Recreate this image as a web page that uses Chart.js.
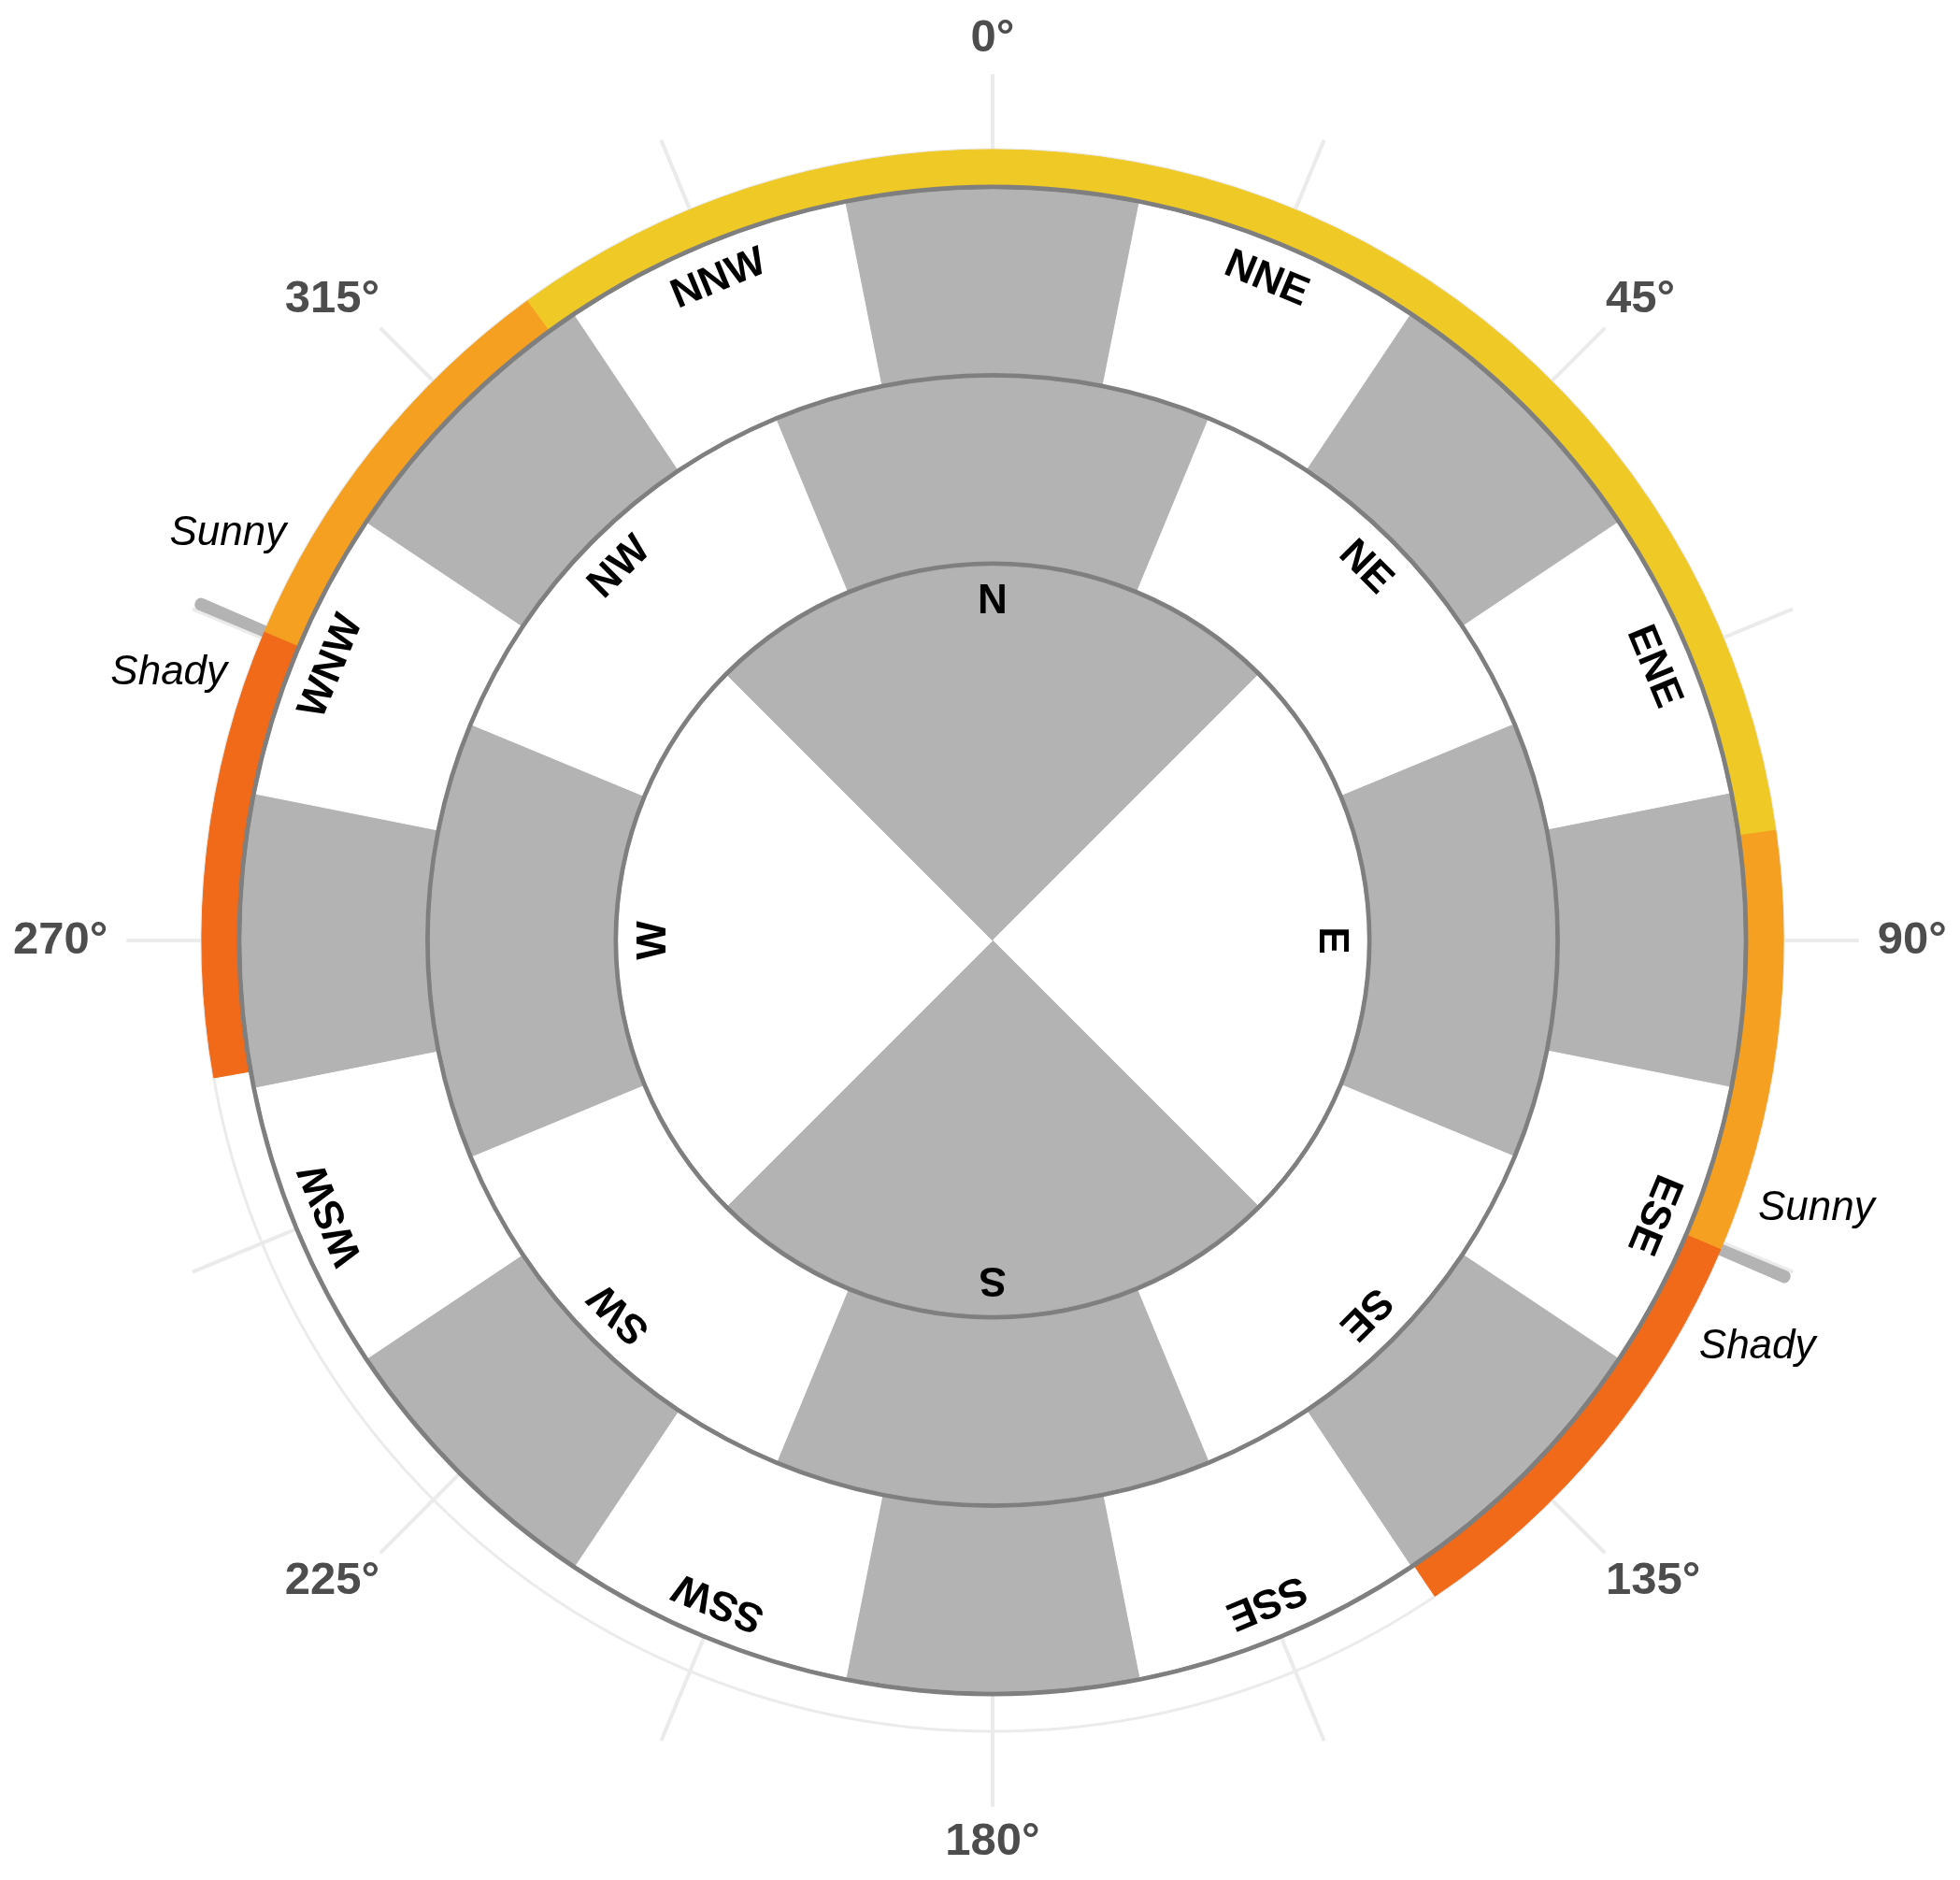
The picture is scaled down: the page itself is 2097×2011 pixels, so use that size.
<!DOCTYPE html>
<html>
<head>
<meta charset="utf-8">
<script src="https://cdn.jsdelivr.net/npm/chart.js@4.4.1/dist/chart.umd.min.js"></script>
<style>
  html, body { margin: 0; padding: 0; background: #fff; }
  #wrap { width: 2097px; height: 2011px; position: relative; }
</style>
</head>
<body>
<div id="wrap"><canvas id="rose"></canvas></div>
<script>
// compass sectors, inner ring to outer ring
var ring4 = ['N', 'E', 'S', 'W'];
var ring8 = ['N', 'NE', 'E', 'SE', 'S', 'SW', 'W', 'NW'];
var ring16 = ['N', 'NNE', 'NE', 'ENE', 'E', 'ESE', 'SE', 'SSE', 'S', 'SSW', 'SW', 'WSW', 'W', 'WNW', 'NW', 'NNW'];
var ringLevels = [1, 1.5, 2];
var sunLevel = 2.1;
var axisMax = 2.3;

var degreeLabels = ['0°', '', '45°', '', '90°', '', '135°', '', '180°', '', '225°', '', '270°', '', '315°', ''];

// sun band, clockwise from north, each zone ends at this bearing
var sunZones = ['Sunny', 'Partial', 'Shady', 'None', 'Shady', 'Partial', 'Sunny'];
var sunZoneEnds = [82, 113, 146, 260, 293, 324, 360];

// sunny / shady dividers and the notes before / after them (clockwise)
var dividerBearings = [113, 293];
var dividerNotes = [['Sunny', 'Shady'], ['Shady', 'Sunny']];

var GRAY = '#b3b3b3';
var EDGE = '#7f7f7f';
var zoneColors = { Sunny: '#efc926', Partial: '#f5a021', Shady: '#f06a19', None: 'rgba(0,0,0,0)' };
var half = 0.0065;       // half width of the ring edge lines
var markWidth = 0.85;    // divider width in degrees
var FONT = '"Liberation Sans", Arial, sans-serif';

function ringDataset(names, level) {
  var step = 360 / names.length;
  var angles = [step / 2], colors = [GRAY], data = [level - half];
  for (var i = 1; i < names.length; i++) {
    angles.push(step);
    colors.push(i % 2 ? '#ffffff' : GRAY);
    data.push(level - half);
  }
  angles.push(step / 2); colors.push(GRAY); data.push(level - half);
  return { data: data, angle: angles, backgroundColor: colors, borderColor: colors, borderWidth: 1 };
}

function edgeDataset(level) {
  return { data: [level + half], angle: [360], backgroundColor: [EDGE], borderWidth: 0 };
}

var sunColors = sunZones.map(function (z) { return zoneColors[z]; });
var sunBand = {
  data: sunZones.map(function (z) { return z === 'None' ? 0 : sunLevel; }),
  angle: sunZoneEnds.map(function (e, i) { return e - (i ? sunZoneEnds[i - 1] : 0); }),
  backgroundColor: sunColors,
  borderColor: sunColors,
  borderWidth: 1
};

var markData = [], markAngles = [], prev = 0;
dividerBearings.forEach(function (b) {
  markAngles.push(b - markWidth / 2 - prev); markData.push(0);
  markAngles.push(markWidth); markData.push(axisMax);
  prev = b + markWidth / 2;
});
markAngles.push(360 - prev); markData.push(0);
var markers = {
  data: markData, angle: markAngles,
  backgroundColor: markData.map(function (v) { return v ? GRAY : 'rgba(0,0,0,0)'; }),
  borderWidth: 0,
  borderRadius: { outerStart: 6, outerEnd: 6, innerStart: 0, innerEnd: 0 }
};

// text on the rings (each name only where it first appears) and the divider notes
var compassText = {
  id: 'compassText',
  afterDatasetsDraw: function (chart) {
    var r = chart.scales.r;
    var ctx = chart.ctx;
    ctx.save();
    ctx.fillStyle = '#000';
    ctx.textAlign = 'center';
    ctx.textBaseline = 'middle';
    ctx.font = 'bold 44px ' + FONT;
    [ring4, ring8, ring16].forEach(function (names, k) {
      var dist = r.getDistanceFromCenterForValue(ringLevels[k] - 0.1);
      names.forEach(function (name, i) {
        if (k > 0 && i % 2 === 0) return;
        ctx.save();
        ctx.translate(r.xCenter, r.yCenter);
        ctx.rotate(i * 2 * Math.PI / names.length);
        ctx.fillText(name, 0, -dist);
        ctx.restore();
      });
    });
    ctx.font = 'italic 44px ' + FONT;
    var nd = r.getDistanceFromCenterForValue(axisMax);
    dividerBearings.forEach(function (b, k) {
      [-5, 5].forEach(function (off, j) {
        var a = (b + off) * Math.PI / 180;
        ctx.fillText(dividerNotes[k][j], r.xCenter + nd * Math.sin(a), r.yCenter - nd * Math.cos(a));
      });
    });
    ctx.restore();
  }
};

new Chart('rose', {
  type: 'polarArea',
  data: {
    labels: degreeLabels,
    datasets: [
      ringDataset(ring4, ringLevels[0]),
      edgeDataset(ringLevels[0]),
      ringDataset(ring8, ringLevels[1]),
      edgeDataset(ringLevels[1]),
      ringDataset(ring16, ringLevels[2]),
      edgeDataset(ringLevels[2]),
      sunBand,
      markers
    ]
  },
  options: {
    responsive: true,
    maintainAspectRatio: false,
    devicePixelRatio: 1,
    animation: false,
    events: [],
    layout: { padding: { top: 12, bottom: 10 } },
    plugins: { legend: { display: false }, tooltip: { enabled: false } },
    scales: {
      r: {
        min: 0,
        max: axisMax,
        startAngle: 0,
        ticks: { display: false },
        afterBuildTicks: function (s) { s.ticks = [{ value: 0 }, { value: sunLevel }]; },
        grid: { circular: true, color: '#ebebeb', lineWidth: 3 },
        angleLines: { display: true, color: '#ebebeb', lineWidth: 4 },
        pointLabels: {
          display: true,
          color: '#4d4d4d',
          font: { family: FONT, size: 49, weight: 'bold' },
          padding: function (c) { return [8, 0, 1, 0, 20, 0, 1, 0][c.index % 8]; }
        }
      }
    }
  },
  plugins: [compassText]
});
</script>
</body>
</html>
